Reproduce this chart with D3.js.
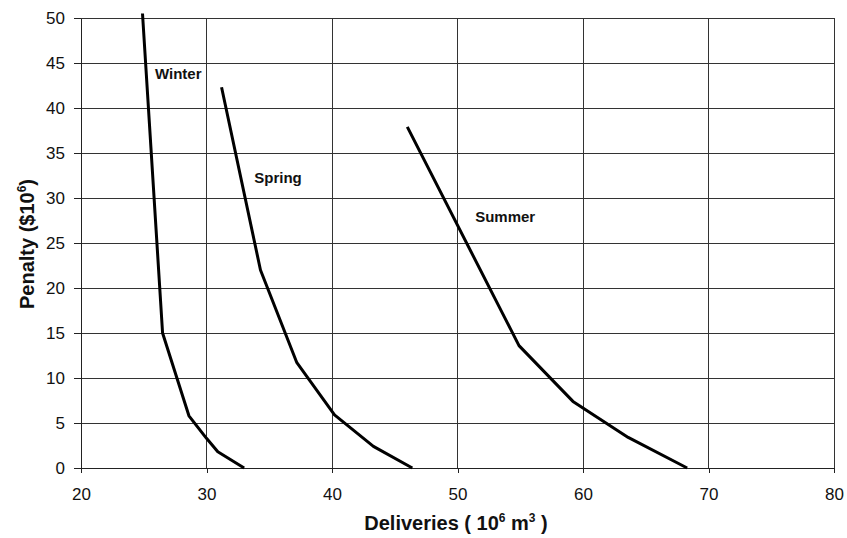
<!DOCTYPE html>
<html lang="en">
  <head>
    <meta charset="utf-8">
    <title>Penalty vs deliveries</title>
    <script src="https://cdn.jsdelivr.net/npm/d3@7/dist/d3.min.js"></script>
    <style>
      body { margin: 0; background: #fff; }
      .axis text { font-family: "Liberation Sans", Arial, sans-serif; font-size: 17px; fill: #111; }
      .axis path, .axis line { stroke: #222; shape-rendering: crispEdges; }
      .grid line { stroke: #333; stroke-width: 1; shape-rendering: crispEdges; }
      .title { font-family: "Liberation Sans", Arial, sans-serif; font-weight: bold; fill: #111; }
      .lbl { font-family: "Liberation Sans", Arial, sans-serif; font-weight: bold; font-size: 15px; fill: #111; }
    </style>
  </head>
  <body>
    <script>
      // values: [deliveries, penalty]
      var winter = [[24.9, 50.5], [26.5, 15.0], [28.6, 5.8], [30.0, 3.3], [30.9, 1.8], [33.0, 0]];
      var spring = [[31.2, 42.3], [34.3, 22.0], [37.2, 11.7], [40.2, 5.9], [43.3, 2.4], [46.4, 0]];
      var summer = [[46.0, 37.9], [54.9, 13.6], [59.2, 7.4], [63.6, 3.4], [68.3, 0]];
      var seasons = ["Winter", "Spring", "Summer"];
      var labelPos = [[27.75, 43.8], [35.7, 32.3], [53.8, 27.9]];
      var xTicks = [20, 30, 40, 50, 60, 70, 80];
      var yTicks = [0, 5, 10, 15, 20, 25, 30, 35, 40, 45, 50];

      var w = 847, h = 538;
      var padL = 81, padR = 834, padT = 18, padB = 468;

      var xScale = d3.scaleLinear().domain([20, 80]).range([padL, padR]);
      var yScale = d3.scaleLinear().domain([0, 50]).range([padB, padT]);

      var svg = d3.select("body").append("svg")
                  .attr("width", w)
                  .attr("height", h);

      // grid
      svg.append("g").attr("class", "grid")
         .selectAll("line").data(yTicks).enter().append("line")
         .attr("x1", padL).attr("x2", padR)
         .attr("y1", function (d) { return yScale(d); })
         .attr("y2", function (d) { return yScale(d); });

      svg.append("g").attr("class", "grid")
         .selectAll("line").data(xTicks).enter().append("line")
         .attr("y1", padT).attr("y2", padB)
         .attr("x1", function (d) { return xScale(d); })
         .attr("x2", function (d) { return xScale(d); });

      var xAxis = d3.axisBottom(xScale).tickValues(xTicks).tickSize(5).tickPadding(15).tickSizeOuter(0);
      var yAxis = d3.axisLeft(yScale).tickValues(yTicks).tickSize(7).tickPadding(9).tickSizeOuter(0);

      svg.append("g").attr("class", "x axis")
         .attr("transform", "translate(0," + padB + ")")
         .call(xAxis);

      svg.append("g").attr("class", "y axis")
         .attr("transform", "translate(" + padL + ",0)")
         .call(yAxis);

      var line = d3.line()
                   .x(function (d) { return xScale(d[0]); })
                   .y(function (d) { return yScale(d[1]); });

      svg.append("g").selectAll("path")
         .data([winter, spring, summer]).enter().append("path")
         .attr("d", line)
         .attr("fill", "none")
         .attr("stroke", "#000")
         .attr("stroke-width", 3)
         .attr("stroke-linejoin", "round");

      svg.append("g").selectAll("text")
         .data(seasons).enter().append("text")
         .attr("class", "lbl")
         .attr("text-anchor", "middle")
         .attr("x", function (d, i) { return xScale(labelPos[i][0]); })
         .attr("y", function (d, i) { return yScale(labelPos[i][1]); })
         .attr("dy", "0.35em")
         .text(function (d) { return d; });

      // axis titles
      var xt = svg.append("text").attr("class", "title")
                  .attr("x", 456).attr("y", 530)
                  .attr("text-anchor", "middle")
                  .style("font-size", "20px");
      xt.append("tspan").text("Deliveries ( 10");
      xt.append("tspan").attr("dy", -8).style("font-size", "12px").text("6");
      xt.append("tspan").attr("dy", 8).text(" m");
      xt.append("tspan").attr("dy", -8).style("font-size", "12px").text("3");
      xt.append("tspan").attr("dy", 8).text(" )");

      var yt = svg.append("text").attr("class", "title")
                  .attr("transform", "translate(34,244) rotate(-90)")
                  .attr("text-anchor", "middle")
                  .style("font-size", "20px");
      yt.append("tspan").text("Penalty ($10");
      yt.append("tspan").attr("dy", -8).style("font-size", "12px").text("6");
      yt.append("tspan").attr("dy", 8).text(")");
    </script>
  </body>
</html>
